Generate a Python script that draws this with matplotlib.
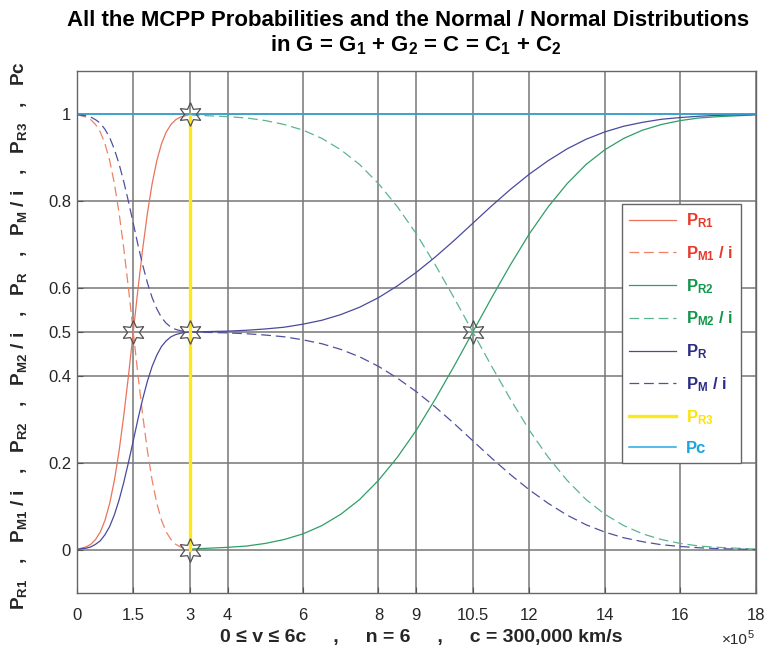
import numpy as np
import matplotlib
matplotlib.use("Agg")
import matplotlib.pyplot as plt
from matplotlib import font_manager

# ---------------- data ----------------
# speed axis in units of 1e5 km/s
v_low = np.linspace(0, 3, 25)      # 0 .. 3, step 0.125
v_high = np.linspace(3, 18, 31)    # 3 .. 18, step 0.5
v_all = np.concatenate([v_low, v_high[1:]])

p_r1 = [0.0, 0.003, 0.006, 0.012, 0.023, 0.040, 0.067, 0.106, 0.159, 0.227, 0.309, 0.401, 0.5,
        0.599, 0.691, 0.773, 0.841, 0.894, 0.933, 0.960, 0.977, 0.988, 0.994, 0.997, 1.0]
p_m1 = [1.0, 0.997, 0.994, 0.988, 0.977, 0.960, 0.933, 0.894, 0.841, 0.773, 0.691, 0.599, 0.5,
        0.401, 0.309, 0.227, 0.159, 0.106, 0.067, 0.040, 0.023, 0.012, 0.006, 0.003, 0.0]

p_r2 = [0.001, 0.003, 0.005, 0.008, 0.014, 0.023, 0.036, 0.055, 0.081, 0.115, 0.159, 0.212, 0.274,
        0.345, 0.421, 0.5, 0.579, 0.655, 0.726, 0.788, 0.841, 0.885, 0.919, 0.945, 0.964, 0.977,
        0.986, 0.992, 0.995, 0.997, 0.999]
p_m2 = [0.999, 0.997, 0.995, 0.992, 0.986, 0.977, 0.964, 0.945, 0.919, 0.885, 0.841, 0.788, 0.726,
        0.655, 0.579, 0.5, 0.421, 0.345, 0.274, 0.212, 0.159, 0.115, 0.081, 0.055, 0.036, 0.023,
        0.014, 0.008, 0.005, 0.003, 0.001]

p_r = [0.0, 0.002, 0.003, 0.006, 0.012, 0.020, 0.034, 0.053, 0.080, 0.114, 0.155, 0.201, 0.25,
       0.300, 0.346, 0.387, 0.421, 0.447, 0.467, 0.480, 0.489, 0.494, 0.497, 0.499, 0.5,
       0.501, 0.502, 0.504, 0.507, 0.511, 0.518, 0.527, 0.540, 0.557, 0.579, 0.606, 0.637, 0.672,
       0.710, 0.75, 0.790, 0.828, 0.863, 0.894, 0.921, 0.943, 0.960, 0.973, 0.982, 0.989, 0.993,
       0.996, 0.998, 0.999, 1.0]
p_m = [1.0, 0.998, 0.997, 0.994, 0.988, 0.980, 0.966, 0.947, 0.920, 0.886, 0.845, 0.799, 0.75,
       0.700, 0.654, 0.613, 0.579, 0.553, 0.533, 0.520, 0.511, 0.506, 0.503, 0.501, 0.5,
       0.499, 0.498, 0.496, 0.493, 0.489, 0.482, 0.473, 0.460, 0.443, 0.421, 0.394, 0.363, 0.328,
       0.290, 0.25, 0.210, 0.172, 0.137, 0.106, 0.079, 0.057, 0.040, 0.027, 0.018, 0.011, 0.007,
       0.004, 0.002, 0.001, 0.0]

p_r3_v = [3, 3]
p_r3 = [0, 1]
pc_v = [0, 18]
pc = [1, 1]

# crossing points marked with hexagrams
star_v = [1.5, 3, 3, 3, 10.5]
star_p = [0.5, 1, 0.5, 0, 0.5]

xticks = [0, 1.5, 3, 4, 6, 8, 9, 10.5, 12, 14, 16, 18]
xtick_labels = ['0', '1.5', '3', '4', '6', '8', '9', '10.5', '12', '14', '16', '18']
yticks = [0, 0.2, 0.4, 0.5, 0.6, 0.8, 1]
ytick_labels = ['0', '0.2', '0.4', '0.5', '0.6', '0.8', '1']

# ---------------- fonts ----------------
names = {f.name for f in font_manager.fontManager.ttflist}
FONT = 'Liberation Sans Narrow' if 'Liberation Sans Narrow' in names else 'Liberation Sans'
plt.rcParams['font.family'] = [FONT, 'DejaVu Sans']
plt.rcParams['mathtext.fontset'] = 'custom'
plt.rcParams['mathtext.rm'] = FONT + ':bold'
plt.rcParams['mathtext.bf'] = FONT + ':bold'
plt.rcParams['mathtext.it'] = FONT + ':bold'
plt.rcParams['lines.scale_dashes'] = False

# ---------------- plot ----------------
fig = plt.figure(figsize=(7.69, 6.56), dpi=100)
ax = fig.add_axes([0.0997, 0.0960, 0.8831, 0.7958])

DASH = (7, 3.5)
ax.plot(v_low, p_r1, color='#E9735B', lw=0.9, label=r'P$_{R1}$')
ax.plot(v_low, p_m1, color='#EE8266', lw=0.9, dashes=DASH, label=r'P$_{M1}$ / i')
ax.plot(v_high, p_r2, color='#2F9E68', lw=0.9, label=r'P$_{R2}$')
ax.plot(v_high, p_m2, color='#5BB58F', lw=0.9, dashes=DASH, label=r'P$_{M2}$ / i')
ax.plot(v_all, p_r, color='#4A4A9C', lw=0.9, label=r'P$_{R}$')
ax.plot(v_all, p_m, color='#5050A0', lw=0.9, dashes=DASH, label=r'P$_{M}$ / i')
ax.plot(p_r3_v, p_r3, color='#FFE81A', lw=2.4, label=r'P$_{R3}$')
ax.plot(pc_v, pc, color='#27A9E1', lw=1.1, label='Pc')
ax.plot(star_v, star_p, ls='none', marker=(6, 1, 0), ms=17, mfc='none',
        mec='#505050', mew=0.9, zorder=5)

ax.set_xlim(0, 18)
ax.set_ylim(-0.1, 1.1)
ax.set_xticks(xticks)
ax.set_xticklabels(xtick_labels)
ax.set_yticks(yticks)
ax.set_yticklabels(ytick_labels)
ax.tick_params(direction='in', length=4, width=0.8, colors='#555555',
               labelcolor='#262626', labelsize=12)
ax.tick_params(axis='y', pad=4)
ax.tick_params(axis='x', pad=11)
ax.grid(True, color='#777777', lw=1.1)
ax.set_axisbelow(True)
for s in ax.spines.values():
    s.set_color('#666666')
    s.set_linewidth(1.0)

ax.set_ylabel(r'P$_{R1}$   ,   P$_{M1}$ / i   ,   P$_{R2}$   ,   P$_{M2}$ / i   ,   P$_{R}$   ,   '
              r'P$_{M}$ / i   ,   P$_{R3}$   ,   Pc', fontsize=13.7, fontweight='bold', color='#262626')
ax.yaxis.set_label_coords(-0.085, 0.494)
ax.yaxis.label.set_va('center')
ax.set_xlabel('0 \u2264 v \u2264 6c     ,     n = 6     ,     c = 300,000 km/s',
              fontsize=14, fontweight='bold', color='#262626')
ax.xaxis.set_label_coords(0.507, -0.086)
ax.xaxis.label.set_va('center')

ax.text(0.950, -0.090, '\u00d710', transform=ax.transAxes, fontsize=11,
        color='#262626', ha='left', va='center')
ax.text(0.988, -0.080, '5', transform=ax.transAxes, fontsize=8,
        color='#262626', ha='left', va='center')

fig.text(0.531, 0.960, 'All the MCPP Probabilities and the Normal / Normal Distributions',
         ha='center', va='baseline', fontsize=16, fontweight='bold')
fig.text(0.541, 0.922, r'in G = G$_1$ + G$_2$ = C = C$_1$ + C$_2$',
         ha='center', va='baseline', fontsize=16, fontweight='bold')

leg = ax.legend(loc='upper left', bbox_to_anchor=(0.803, 0.745),
                prop={'weight': 'bold', 'size': 12}, frameon=True, fancybox=False,
                framealpha=1, edgecolor='#666666', handlelength=2.8,
                labelspacing=0.84, borderpad=0.45, handletextpad=0.6,
                borderaxespad=0)
leg.get_frame().set_linewidth(1.0)
text_colors = ['#E8392A', '#E8392A', '#11964A', '#11964A', '#2B2D83', '#2B2D83',
               '#FFE300', '#1AA5DF']
for t, c in zip(leg.get_texts(), text_colors):
    t.set_color(c)

fig.savefig('out.png', dpi=100)
